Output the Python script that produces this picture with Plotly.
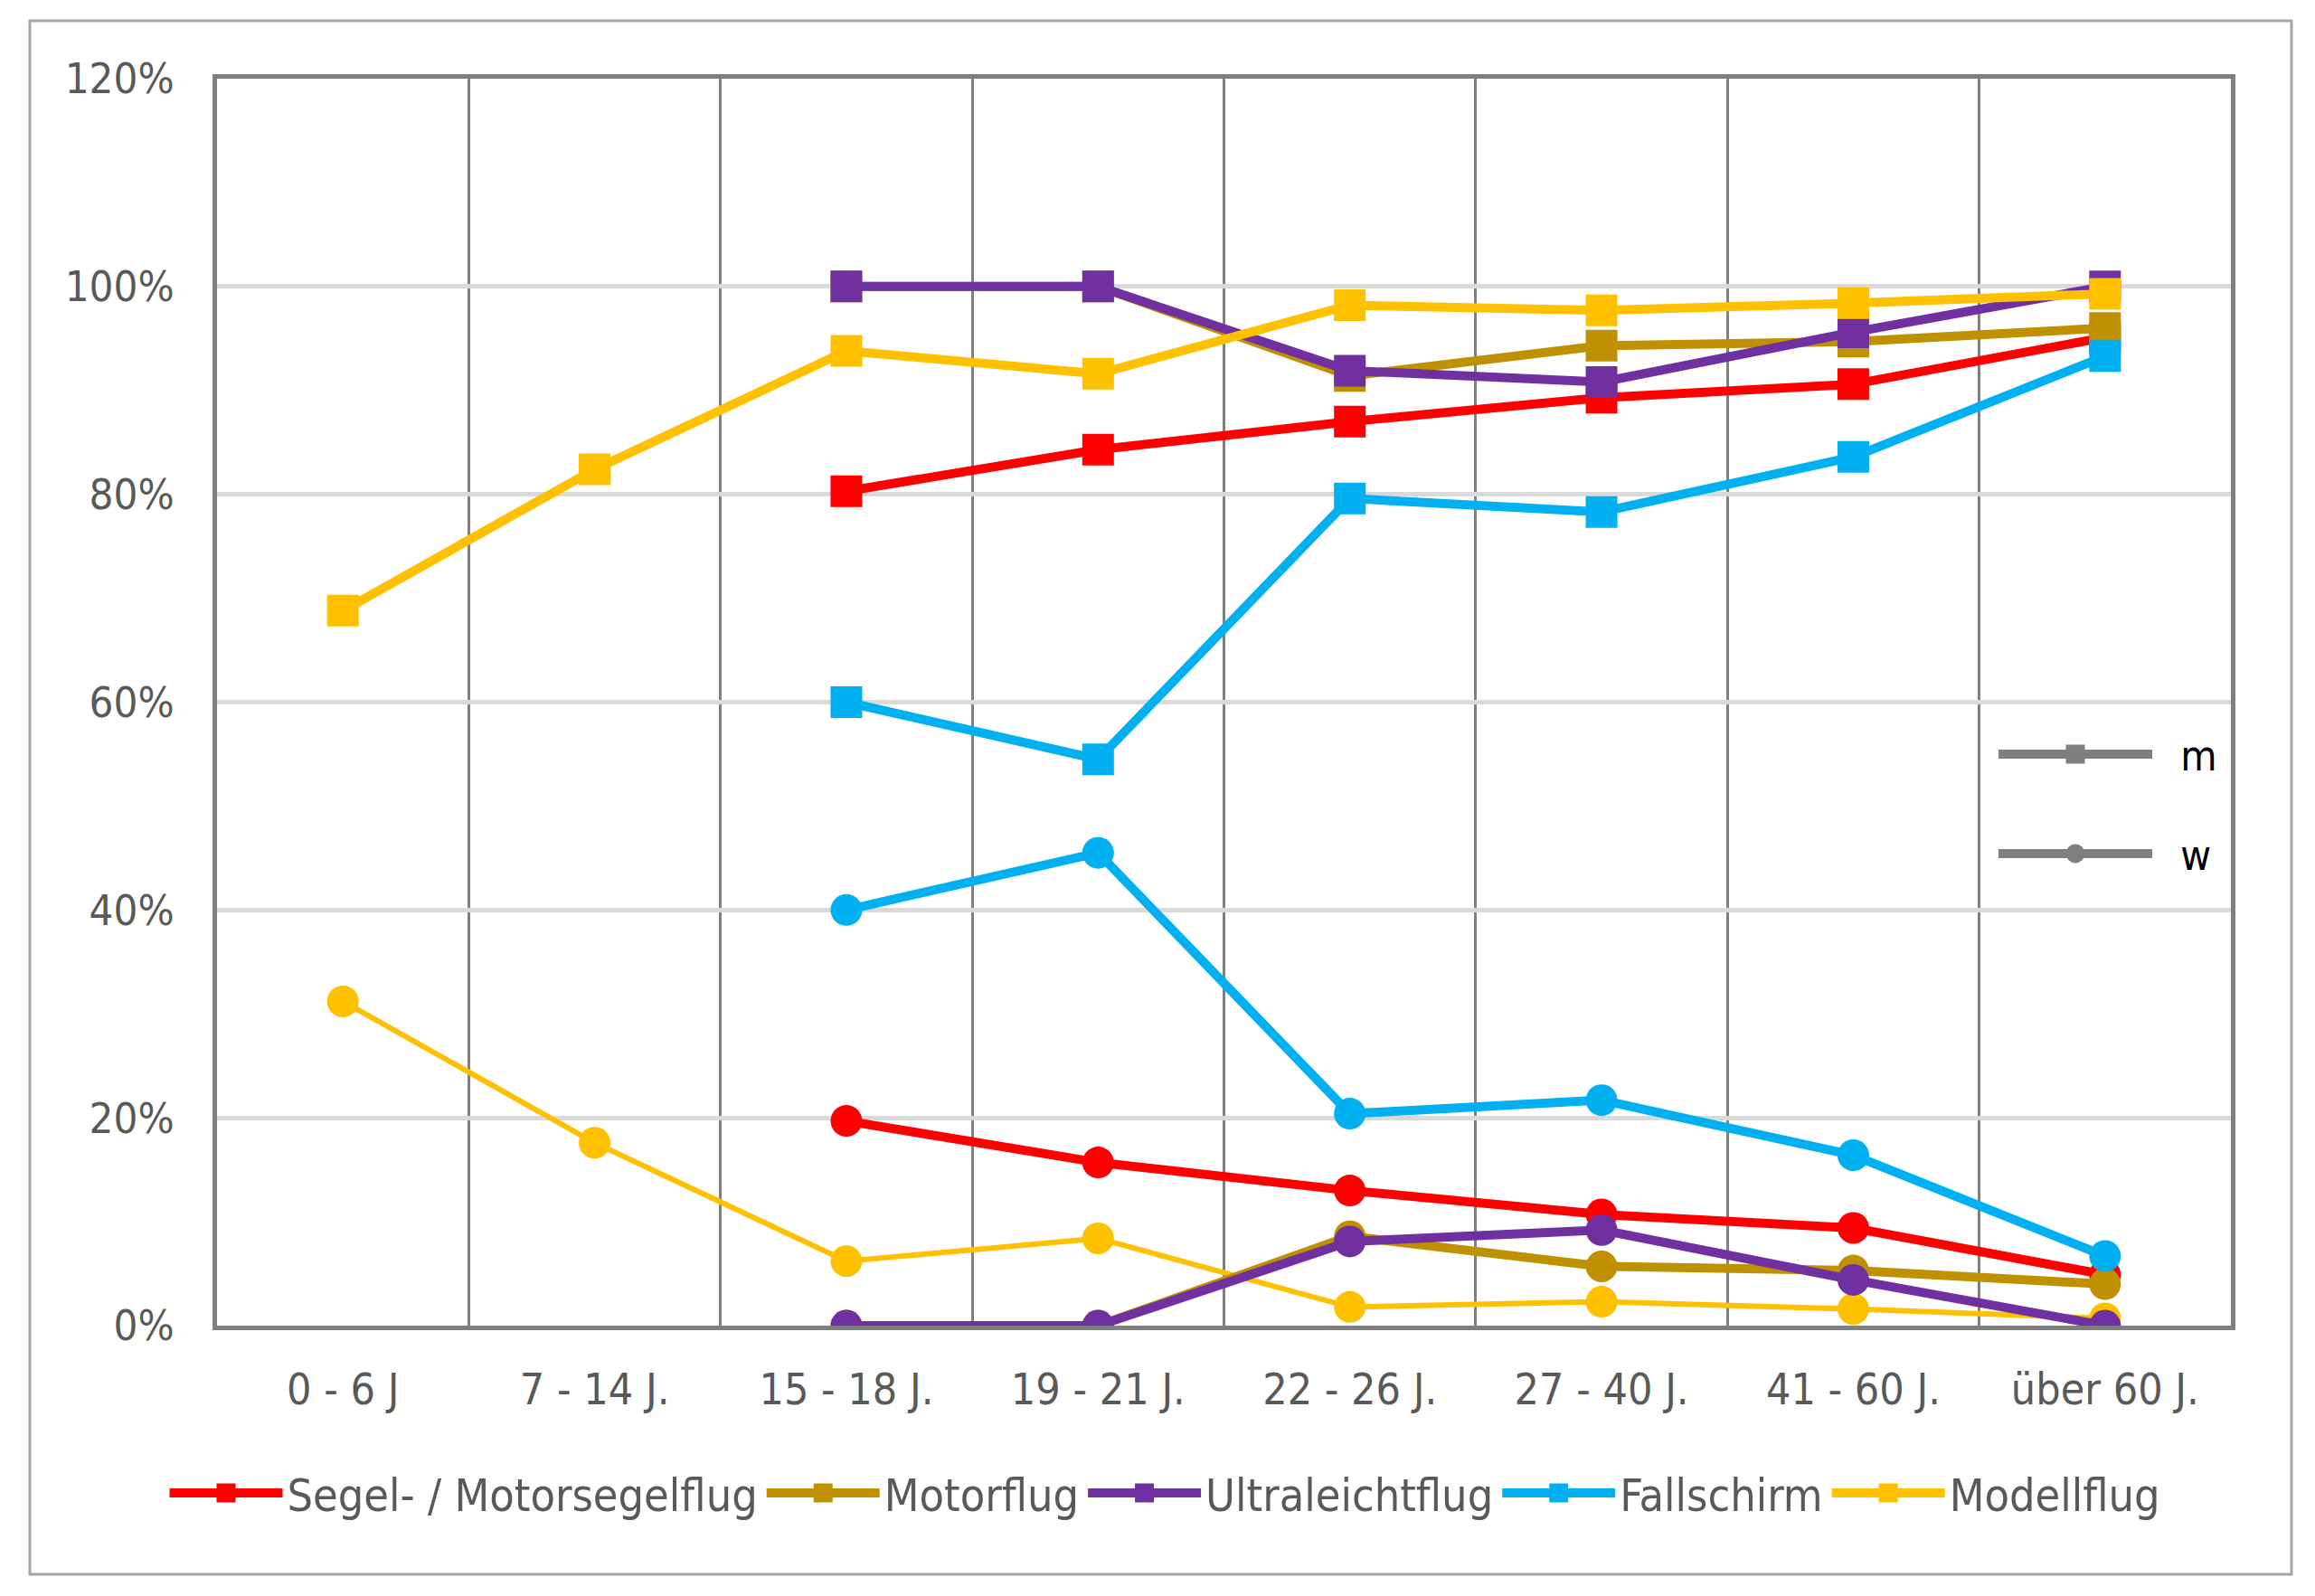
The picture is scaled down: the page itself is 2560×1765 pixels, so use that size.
import plotly.graph_objects as go

categories = ["0 - 6 J", "7 - 14 J.", "15 - 18 J.", "19 - 21 J.", "22 - 26 J.", "27 - 40 J.", "41 - 60 J.", "über 60 J."]

series_names = ["Segel- / Motorsegelflug", "Motorflug", "Ultraleichtflug", "Fallschirm", "Modellflug"]
series_colors = ["#FF0000", "#BF9000", "#7030A0", "#00B0F0", "#FFC000"]

# m (male) shares in %
segel_m = [None, None, 80.3, 84.3, 87.0, 89.3, 90.6, 95.1]
motor_m = [None, None, 100.0, 100.0, 91.4, 94.3, 94.7, 96.0]
ultra_m = [None, None, 100.0, 100.0, 91.9, 90.8, 95.6, 100.0]
fall_m = [None, None, 60.0, 54.5, 79.6, 78.3, 83.6, 93.3]
modell_m = [68.8, 82.4, 93.8, 91.6, 98.2, 97.7, 98.4, 99.3]

# w (female) shares in %
segel_w = [None, None, 19.7, 15.7, 13.0, 10.7, 9.4, 4.9]
motor_w = [None, None, 0.0, 0.0, 8.6, 5.7, 5.3, 4.0]
ultra_w = [None, None, 0.0, 0.0, 8.1, 9.2, 4.4, 0.0]
fall_w = [None, None, 40.0, 45.5, 20.4, 21.7, 16.4, 6.7]
modell_w = [31.2, 17.6, 6.2, 8.4, 1.8, 2.3, 1.6, 0.7]

m_values = [segel_m, motor_m, ultra_m, fall_m, modell_m]
w_values = [segel_w, motor_w, ultra_w, fall_w, modell_w]
w_widths = [10, 10, 10, 10, 6]
w_order = [0, 4, 1, 2, 3]

gender_labels = ["m", "w"]
gender_symbols = ["square", "circle"]

y_ticks = [0, 20, 40, 60, 80, 100, 120]
y_ticktext = [f"{v}%" for v in y_ticks]

W, H = 2560, 1765
OFF = 8  # page offset of the figure
ML, MR, MT, MB = 240 - OFF, 93 + OFF, 87 - OFF, 299 + OFF
FONT = "Liberation Sans Narrow, DejaVu Sans Condensed, Arial Narrow, sans-serif"
TXT = "#595959"

fig = go.Figure()

for i, name in enumerate(series_names):
    fig.add_trace(go.Scatter(
        x=categories, y=m_values[i], mode="lines+markers", name=name,
        line=dict(color=series_colors[i], width=10),
        marker=dict(symbol="square", size=30, color=series_colors[i],
                    line=dict(color=series_colors[i], width=5)),
        legend="legend", connectgaps=False,
    ))

for i in w_order:
    fig.add_trace(go.Scatter(
        x=categories, y=w_values[i], mode="lines+markers", name=series_names[i] + " w",
        line=dict(color=series_colors[i], width=w_widths[i]),
        marker=dict(symbol="circle", size=35, color=series_colors[i]),
        showlegend=False, connectgaps=False,
    ))

# gender key (legend only)
for k, (lab, sym) in enumerate(zip(gender_labels, gender_symbols)):
    fig.add_trace(go.Scatter(
        x=[None], y=[None], mode="lines+markers", name="  " + lab,
        line=dict(color="#7F7F7F", width=10),
        marker=dict(symbol=sym, size=16, color="#7F7F7F",
                    line=dict(color="#7F7F7F", width=5)),
        legend="legend2" if k == 0 else "legend3",
    ))

pw = W - ML - MR
ph = H - MT - MB
def px_x(x):
    return (x - OFF - ML) / pw
def px_y(y):
    return (H - MB - (y - OFF)) / ph

fig.update_layout(
    width=W, height=H,
    margin=dict(l=ML, r=MR, t=MT, b=MB),
    paper_bgcolor="white", plot_bgcolor="white",
    font=dict(family=FONT, size=48, color=TXT),
    xaxis=dict(
        type="category", categoryorder="array", categoryarray=categories,
        range=[-0.5, 7.5], tickson="boundaries",
        showgrid=True, gridcolor="#808080", gridwidth=3,
        showline=True, linecolor="#7F7F7F", linewidth=5, mirror=True,
        ticks="", tickfont=dict(family=FONT, size=48, color=TXT),
        ticklabelstandoff=24, zeroline=False,
    ),
    yaxis=dict(
        range=[0, 120], tickvals=y_ticks, ticktext=y_ticktext,
        showgrid=True, gridcolor="#D9D9D9", gridwidth=5,
        showline=True, linecolor="#7F7F7F", linewidth=5, mirror=True,
        ticks="", tickfont=dict(family=FONT, size=47, color=TXT),
        ticklabelstandoff=33, zeroline=False,
    ),
    legend=dict(
        orientation="h", x=0.5 - 65 / pw, xanchor="center", y=px_y(1651), yanchor="middle",
        font=dict(family=FONT, size=50, color=TXT), bgcolor="rgba(0,0,0,0)",
        itemwidth=125, traceorder="normal",
    ),
    legend2=dict(
        x=px_x(2205), xanchor="left", y=px_y(834), yanchor="middle",
        font=dict(family=FONT, size=46, color="#000000"), bgcolor="rgba(0,0,0,0)",
        itemwidth=170,
    ),
    legend3=dict(
        x=px_x(2205), xanchor="left", y=px_y(944), yanchor="middle",
        font=dict(family=FONT, size=46, color="#000000"), bgcolor="rgba(0,0,0,0)",
        itemwidth=170,
    ),
    shapes=[dict(
        type="rect", xref="paper", yref="paper",
        x0=px_x(33), x1=px_x(2534), y0=px_y(1741), y1=px_y(23),
        line=dict(color="#A6A6A6", width=3), fillcolor="rgba(0,0,0,0)", layer="below",
    )],
)

fig.write_html("out.html")
